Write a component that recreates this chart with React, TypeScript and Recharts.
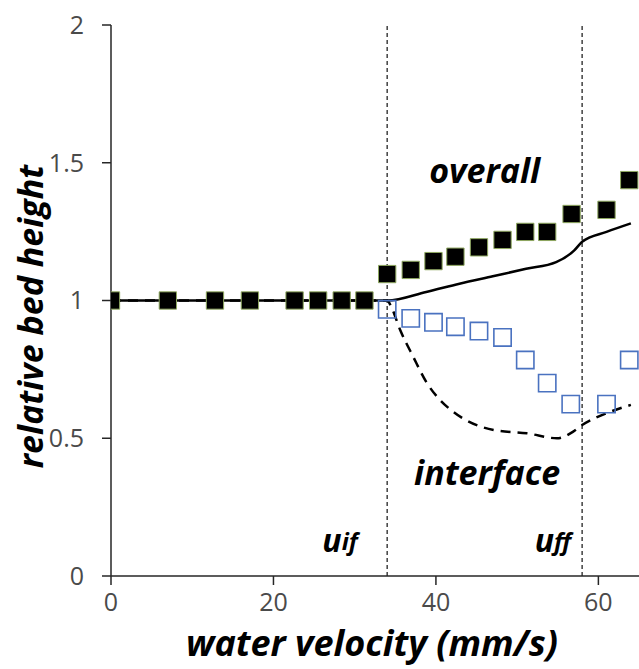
import React from "react";
import { ComposedChart, Line, Scatter, XAxis, YAxis, ZAxis, ReferenceLine, ReferenceDot, Label } from "recharts";

const xTicks = [0, 20, 40, 60];
const yTicks = [0, 0.5, 1, 1.5, 2];

// measured points: overall bed height (filled squares)
const overallX = [0, 7, 12.8, 17.1, 22.6, 25.5, 28.4, 31.2, 34, 36.9, 39.7, 42.4, 45.3, 48.2, 51, 53.7, 56.7, 61, 63.8];
const overallY = [1, 1, 1, 1, 1, 1, 1, 1, 1.096, 1.111, 1.143, 1.159, 1.193, 1.22, 1.249, 1.249, 1.314, 1.329, 1.437];

// measured points: interface height (hollow squares)
const interfaceX = [34, 36.9, 39.7, 42.4, 45.3, 48.2, 51, 53.7, 56.6, 61, 63.8];
const interfaceY = [0.968, 0.935, 0.921, 0.905, 0.889, 0.866, 0.784, 0.7, 0.624, 0.624, 0.784];

// model curves
const modelOverallX = [0, 34, 38.8, 42.9, 47, 51.1, 54.8, 57, 58, 61, 64];
const modelOverallY = [1, 1, 1.031, 1.061, 1.088, 1.115, 1.139, 1.181, 1.213, 1.249, 1.28];
const modelInterfaceX = [0, 34, 34.5, 35.6, 37.2, 38.9, 40.5, 42.1, 47.1, 51.2, 54.9, 56.9, 58, 61, 64];
const modelInterfaceY = [1, 1, 0.977, 0.893, 0.796, 0.7, 0.639, 0.597, 0.53, 0.518, 0.5, 0.524, 0.548, 0.591, 0.621];

const uIf = 34;
const uFf = 58;

const zip = (xs: number[], ys: number[]) => xs.map((x, i) => ({ x, y: ys[i] }));

const overall = zip(overallX, overallY);
const iface = zip(interfaceX, interfaceY);
const modelOverall = zip(modelOverallX, modelOverallY);
const modelIface = zip(modelInterfaceX, modelInterfaceY);

const font = "'Open Sans', Lato, sans-serif";

const annot = (text: string, sub?: string, size = 34) => (props: any) => {
  const { x, y } = props.viewBox;
  return (
    <text x={x} y={y} textAnchor="middle" dominantBaseline="central" fontFamily={font} fontWeight="bold" fontStyle="italic" fontSize={size} fill="#000">
      {text}
      {sub ? <tspan fontSize={24}>{sub}</tspan> : null}
    </text>
  );
};

const XTitle = (props: any) => {
  const vb = props.viewBox;
  return (
    <text x={vb.x + vb.width / 2 - 3} y={vb.y + 80} textAnchor="middle" fontFamily={font} fontWeight="bold" fontStyle="italic" fontSize={36} fill="#000">
      water velocity (mm/s)
    </text>
  );
};

const YTitle = (props: any) => {
  const vb = props.viewBox;
  const cx = 30;
  const cy = vb.y + vb.height / 2 + 16;
  return (
    <text x={cx} y={cy} transform={`rotate(-90 ${cx} ${cy})`} textAnchor="middle" dominantBaseline="central" fontFamily={font} fontWeight="bold" fontStyle="italic" fontSize={34} fill="#000">
      relative bed height
    </text>
  );
};

export default function App() {
  const tickStyle = { fontFamily: font, fontSize: 25, fill: "#4a4a4a" };
  return (
    <div style={{ position: "absolute", left: 0, top: 0, width: 639, height: 669, background: "#fff" }}>
      <ComposedChart width={639} height={669} margin={{ top: 25, right: 0, bottom: 0, left: 0 }}>
        <XAxis type="number" dataKey="x" domain={[0, 65]} ticks={xTicks} allowDataOverflow height={93} stroke="#262626" strokeWidth={1.5} tickSize={9} tickMargin={8} tick={tickStyle} interval={0}>
          <Label content={XTitle} />
        </XAxis>
        <YAxis type="number" dataKey="y" domain={[0, 2]} ticks={yTicks} allowDataOverflow width={111} stroke="#262626" strokeWidth={1.5} tickSize={9} tickMargin={18} tick={tickStyle} interval={0}>
          <Label content={YTitle} />
        </YAxis>
        <ZAxis type="number" range={[300, 300]} />
        <ReferenceLine x={uIf} stroke="#404040" strokeWidth={1.5} strokeDasharray="4 3" />
        <ReferenceLine x={uFf} stroke="#404040" strokeWidth={1.5} strokeDasharray="4 3" />
        <Line data={modelIface} dataKey="y" type="monotone" stroke="#000" strokeWidth={2.5} strokeDasharray="10 7" dot={false} activeDot={false} isAnimationActive={false} />
        <Line data={modelOverall} dataKey="y" type="monotone" stroke="#000" strokeWidth={2.5} dot={false} activeDot={false} isAnimationActive={false} />
        <Scatter data={iface} dataKey="y" shape="square" fill="none" stroke="#4a72c0" strokeWidth={1.6} isAnimationActive={false} />
        <Scatter data={overall} dataKey="y" shape="square" fill="#000" stroke="#8fa860" strokeWidth={1} isAnimationActive={false} />
        <ReferenceDot x={46} y={1.473} r={0} fill="none" stroke="none" label={annot("overall")} />
        <ReferenceDot x={46.3} y={0.377} r={0} fill="none" stroke="none" label={annot("interface")} />
        <ReferenceDot x={28.2} y={0.131} r={0} fill="none" stroke="none" label={annot("u", "if", 32)} />
        <ReferenceDot x={54.4} y={0.131} r={0} fill="none" stroke="none" label={annot("u", "ff", 32)} />
      </ComposedChart>
    </div>
  );
}
